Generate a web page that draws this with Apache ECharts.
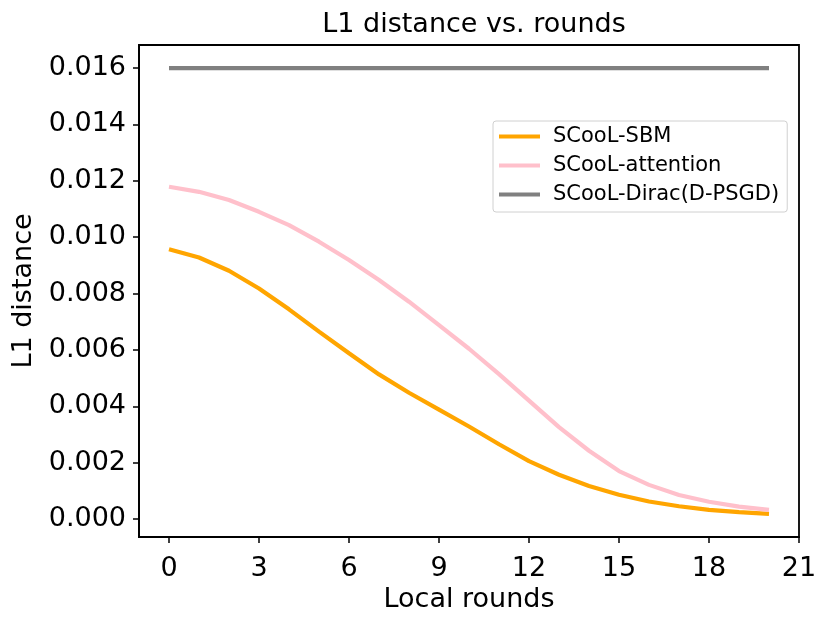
<!DOCTYPE html>
<html>
<head>
<meta charset="utf-8">
<title>L1 distance vs. rounds</title>
<script src="https://cdn.jsdelivr.net/npm/echarts@6/dist/echarts.min.js"></script>
<style>
  html, body { margin: 0; padding: 0; background: #fff; }
  #chart { width: 830px; height: 624px; }
</style>
</head>
<body>
<div id="chart"></div>
<script>
// data
var rounds = [0, 1, 2, 3, 4, 5, 6, 7, 8, 9, 10, 11, 12, 13, 14, 15, 16, 17, 18, 19, 20];
var sbm = [0.00957, 0.00928, 0.00881, 0.00818, 0.00744, 0.00665, 0.00588, 0.00513, 0.00448, 0.00388, 0.00328,
    0.00265, 0.00205, 0.00157, 0.00117, 0.00086, 0.00062, 0.00045, 0.00032, 0.00024, 0.00018];
var attention = [0.01179, 0.01161, 0.01132, 0.01090, 0.01043, 0.00984, 0.00919, 0.00848, 0.00771, 0.00688, 0.00604,
    0.00514, 0.00420, 0.00326, 0.00242, 0.00170, 0.00121, 0.00085, 0.00061, 0.00044, 0.00032];
var dirac = [0.016, 0.016, 0.016, 0.016, 0.016, 0.016, 0.016, 0.016, 0.016, 0.016, 0.016,
    0.016, 0.016, 0.016, 0.016, 0.016, 0.016, 0.016, 0.016, 0.016, 0.016];
var seriesNames = ['SCooL-SBM', 'SCooL-attention', 'SCooL-Dirac(D-PSGD)'];
var xTicks = [0, 3, 6, 9, 12, 15, 18, 21];
var yTicks = [0, 0.002, 0.004, 0.006, 0.008, 0.010, 0.012, 0.014, 0.016];

var font = 'DejaVu Sans';

function pairs(ys) {
    return rounds.map(function (x, i) { return [x, ys[i]]; });
}

function lineSeries(name, ys, color) {
    return {
        name: name,
        type: 'line',
        data: pairs(ys),
        showSymbol: false,
        symbol: 'none',
        lineStyle: { color: color, width: 4.2 },
        itemStyle: { color: color },
        animation: false
    };
}

var myChart = echarts.init(document.getElementById('chart'));
var option = {
    backgroundColor: '#fff',
    animation: false,
    title: {
        text: 'L1 distance vs. rounds',
        left: 469,
        top: 6,
        textAlign: 'center',
        textStyle: { fontFamily: font, fontSize: 27, fontWeight: 'normal', color: '#000' }
    },
    grid: {
        left: 139, right: 31, top: 45, bottom: 87,
        show: true, borderColor: '#000', borderWidth: 1.8, containLabel: false
    },
    legend: {
        orient: 'vertical',
        left: 493,
        top: 121,
        padding: [5, 8, 7, 6],
        itemGap: 8,
        itemWidth: 41,
        itemHeight: 4,
        icon: 'rect',
        borderColor: '#d0d0d0',
        borderWidth: 1,
        borderRadius: 3,
        backgroundColor: '#fff',
        data: seriesNames,
        textStyle: { fontFamily: font, fontSize: 21, color: '#000', padding: [0, 0, 0, 8] }
    },
    xAxis: {
        type: 'value',
        min: -1,
        max: 21,
        name: 'Local rounds',
        nameLocation: 'middle',
        nameGap: 49,
        nameTextStyle: { fontFamily: font, fontSize: 27, color: '#000' },
        axisLine: { show: true, onZero: false, lineStyle: { color: '#000', width: 1.8 } },
        axisTick: { show: true, inside: false, length: 6, customValues: xTicks, lineStyle: { color: '#000', width: 1.5 } },
        axisLabel: { customValues: xTicks, margin: 18, fontFamily: font, fontSize: 27, color: '#000' },
        splitLine: { show: false }
    },
    yAxis: {
        type: 'value',
        min: -0.00064,
        max: 0.01682,
        name: 'L1 distance',
        nameLocation: 'middle',
        nameGap: 101,
        nameTextStyle: { fontFamily: font, fontSize: 27, color: '#000' },
        axisLine: { show: true, onZero: false, lineStyle: { color: '#000', width: 1.8 } },
        axisTick: { show: true, inside: false, length: 6, customValues: yTicks, lineStyle: { color: '#000', width: 1.5 } },
        axisLabel: {
            customValues: yTicks,
            margin: 13,
            fontFamily: font,
            fontSize: 27,
            color: '#000',
            formatter: function (v) { return v.toFixed(3); }
        },
        splitLine: { show: false }
    },
    series: [
        lineSeries(seriesNames[0], sbm, '#FFA500'),
        lineSeries(seriesNames[1], attention, '#FFC0CB'),
        lineSeries(seriesNames[2], dirac, '#808080')
    ]
};

option && myChart.setOption(option);
</script>
</body>
</html>
